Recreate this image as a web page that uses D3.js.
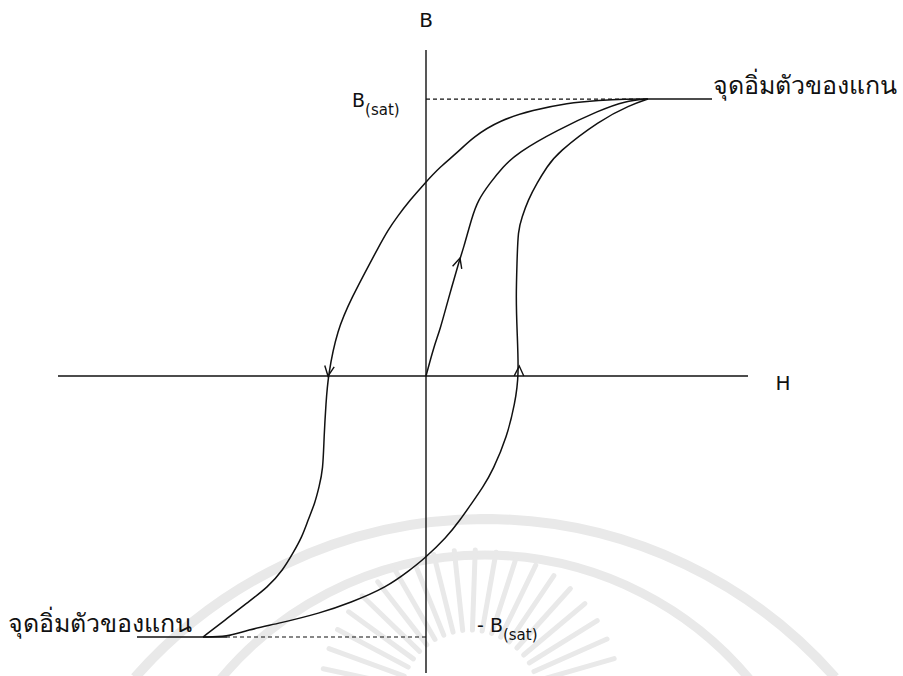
<!DOCTYPE html>
<html>
<head>
<meta charset="utf-8">
<script src="https://cdn.jsdelivr.net/npm/d3@7"></script>
<style>
  body { margin: 0; background: #fff; }
  text { font-family: "DejaVu Sans", Verdana, sans-serif; fill: #111; }
</style>
</head>
<body>
<div class="bh-chart"></div>
<script>
// H in units of 10px, B in units where B(sat) = 10
const bSatTop = 10
const bSatBottom = -9.42
const hAxis = [-36.8, 32.2]
const bAxis = [-10.72, 11.77]

// initial magnetisation curve (from origin)
const initH = [0, 0.8, 1.4, 2.2, 3.4, 3.7, 4.6, 5.2, 6.4, 7.7, 9.1, 13.1, 17.4, 19.9, 22.2]
const initB = [0, 1.08, 1.66, 2.74, 4.26, 4.55, 5.74, 6.35, 6.97, 7.55, 8.05, 8.88, 9.60, 9.93, 10]

// descending branch (+sat -> -sat)
const downH = [22.2, 19.9, 17.4, 14.1, 10.7, 7.4, 4.7, 3.1, 1.4, -0.1, -1.6, -2.9, -3.8, -4.9, -5.6, -7.4, -8.9, -9.8,
  -10.0, -10.2, -10.3, -10.7, -11.1, -11.8, -12.4, -13.3, -14.3, -15.8, -17.9, -20.1, -22.3]
const downB = [10, 10, 9.96, 9.86, 9.60, 9.24, 8.63, 8.05, 7.55, 6.97, 6.35, 5.74, 5.27, 4.55, 4.08, 2.85, 1.66, 0,
  -0.97, -2.20, -3.39, -4.01, -4.58, -5.20, -5.81, -6.39, -7.00, -7.62, -8.19, -8.81, -9.42]

// ascending branch (-sat -> +sat)
const upH = [-22.3, -19.9, -17.9, -14.6, -10.6, -7.6, -3.9, -1.6, -0.3, 2.1, 3.4, 4.6, 5.7, 6.7, 8.1, 8.9, 9.3,
  9.1, 9.0, 9.1, 9.2, 9.6, 10.2, 11.1, 12.1, 13.1, 17.4, 20.4, 22.2]
const upB = [-9.42, -9.42, -9.17, -8.92, -8.56, -8.19, -7.62, -7.00, -6.64, -5.81, -5.20, -4.58, -4.01, -3.39, -2.20, -0.97, 0,
  1.66, 2.85, 4.08, 5.27, 5.74, 6.35, 6.97, 7.55, 8.05, 9.24, 9.78, 10]

// saturation lines
const satTopH = [22.2, 28.6]
const satBottomH = [-28.9, -19.9]

// arrow marks: which curve, point index, shift along the curve (px)
const arrows = [
  { curve: "down", index: 17, shift: 0 },
  { curve: "init", index: 4, shift: 0 },
  { curve: "up", index: 16, shift: 10 }
]

const labelRight = "จุดอิ่มตัวของแกน"
const labelLeft = "จุดอิ่มตัวของแกน"

const width = 903
const height = 676
const svg = d3.select(".bh-chart").append("svg")
  .attr("width", width)
  .attr("height", height)

let x = d3.scaleLinear().domain(hAxis).range([58, 748])
let y = d3.scaleLinear().domain(bAxis).range([673, 50])

// faint watermark seal
let wm = svg.append("g").attr("fill", "none").attr("stroke", "#e9e9e9")
wm.append("path")
  .attr("stroke-width", 10)
  .attr("d", d3.arc().innerRadius(466).outerRadius(466).startAngle(-0.85).endAngle(0.85)())
  .attr("transform", "translate(485,985)")
wm.append("path")
  .attr("stroke-width", 9)
  .attr("d", d3.arc().innerRadius(344).outerRadius(344).startAngle(-0.9).endAngle(0.9)())
  .attr("transform", "translate(485,899)")
let rays = d3.range(-78, 79, 8)
wm.append("g")
  .selectAll("line")
  .data(rays)
  .enter()
  .append("line")
  .attr("stroke-width", 5)
  .attr("stroke-linecap", "round")
  .attr("x1", (d) => 470 + 70 * Math.sin(d * Math.PI / 180))
  .attr("y1", (d) => 700 - 70 * Math.cos(d * Math.PI / 180))
  .attr("x2", (d) => 470 + (Math.abs(d) % 16 == 0 ? 180 : 150) * Math.sin(d * Math.PI / 180))
  .attr("y2", (d) => 700 - (Math.abs(d) % 16 == 0 ? 180 : 150) * Math.cos(d * Math.PI / 180))

// axes
let axisG = svg.append("g").attr("stroke", "#111").attr("stroke-width", 1.4)
axisG.append("line")
  .attr("x1", x(hAxis[0])).attr("x2", x(hAxis[1]))
  .attr("y1", y(0)).attr("y2", y(0))
axisG.append("line")
  .attr("x1", x(0)).attr("x2", x(0))
  .attr("y1", y(bAxis[0])).attr("y2", y(bAxis[1]))

// dashed saturation guides
let dashG = svg.append("g").attr("stroke", "#111").attr("stroke-width", 1.2).attr("stroke-dasharray", "4,3")
dashG.append("line")
  .attr("x1", x(0)).attr("x2", x(satTopH[0]))
  .attr("y1", y(bSatTop)).attr("y2", y(bSatTop))
dashG.append("line")
  .attr("x1", x(0)).attr("x2", x(satBottomH[1]))
  .attr("y1", y(bSatBottom)).attr("y2", y(bSatBottom))

// solid saturation ends
let satG = svg.append("g").attr("stroke", "#111").attr("stroke-width", 1.4)
satG.append("line")
  .attr("x1", x(satTopH[0])).attr("x2", x(satTopH[1]))
  .attr("y1", y(bSatTop)).attr("y2", y(bSatTop))
satG.append("line")
  .attr("x1", x(satBottomH[0])).attr("x2", x(satBottomH[1]))
  .attr("y1", y(bSatBottom)).attr("y2", y(bSatBottom))

// hysteresis curves
let curves = {
  init: initH.map((h, i) => [h, initB[i]]),
  down: downH.map((h, i) => [h, downB[i]]),
  up: upH.map((h, i) => [h, upB[i]])
}
let line = d3.line()
  .x((d) => x(d[0]))
  .y((d) => y(d[1]))
  .curve(d3.curveBasis)
svg.append("g")
  .selectAll("path")
  .data(Object.values(curves))
  .enter()
  .append("path")
  .attr("fill", "none")
  .attr("stroke", "#111")
  .attr("stroke-width", 1.5)
  .attr("d", line)

// arrow heads (open chevrons along the curve direction)
let arrowLen = 11
let arrowHalf = 0.45
svg.append("g")
  .selectAll("path")
  .data(arrows)
  .enter()
  .append("path")
  .attr("fill", "none")
  .attr("stroke", "#111")
  .attr("stroke-width", 1.4)
  .attr("d", (d) => {
    let pts = curves[d.curve]
    let p0 = pts[d.index - 1], p1 = pts[d.index + 1]
    let dx = x(p1[0]) - x(p0[0]), dy = y(p1[1]) - y(p0[1])
    let a = Math.atan2(dy, dx)
    let tx = x(pts[d.index][0]) + d.shift * Math.cos(a)
    let ty = y(pts[d.index][1]) + d.shift * Math.sin(a)
    let l = [tx - arrowLen * Math.cos(a - arrowHalf), ty - arrowLen * Math.sin(a - arrowHalf)]
    let r = [tx - arrowLen * Math.cos(a + arrowHalf), ty - arrowLen * Math.sin(a + arrowHalf)]
    return `M${l[0]},${l[1]} L${tx},${ty} L${r[0]},${r[1]}`
  })

// labels
svg.append("text")
  .attr("x", x(0)).attr("y", 27)
  .attr("text-anchor", "middle")
  .attr("font-size", 20)
  .text("B")
svg.append("text")
  .attr("x", 783).attr("y", 390)
  .attr("text-anchor", "middle")
  .attr("font-size", 20)
  .text("H")

let bSatLabel = svg.append("text")
  .attr("x", 352).attr("y", 107)
  .attr("font-size", 19)
bSatLabel.append("tspan").text("B")
bSatLabel.append("tspan").attr("font-size", 15).attr("dy", 8).text("(sat)")

let bSatLabel2 = svg.append("text")
  .attr("x", 477).attr("y", 632)
  .attr("font-size", 19)
bSatLabel2.append("tspan").text("- B")
bSatLabel2.append("tspan").attr("font-size", 15).attr("dy", 8).text("(sat)")

svg.append("text")
  .attr("x", 713).attr("y", 94)
  .attr("font-size", 25)
  .text(labelRight)
svg.append("text")
  .attr("x", 8).attr("y", 632)
  .attr("font-size", 25)
  .text(labelLeft)
</script>
</body>
</html>
